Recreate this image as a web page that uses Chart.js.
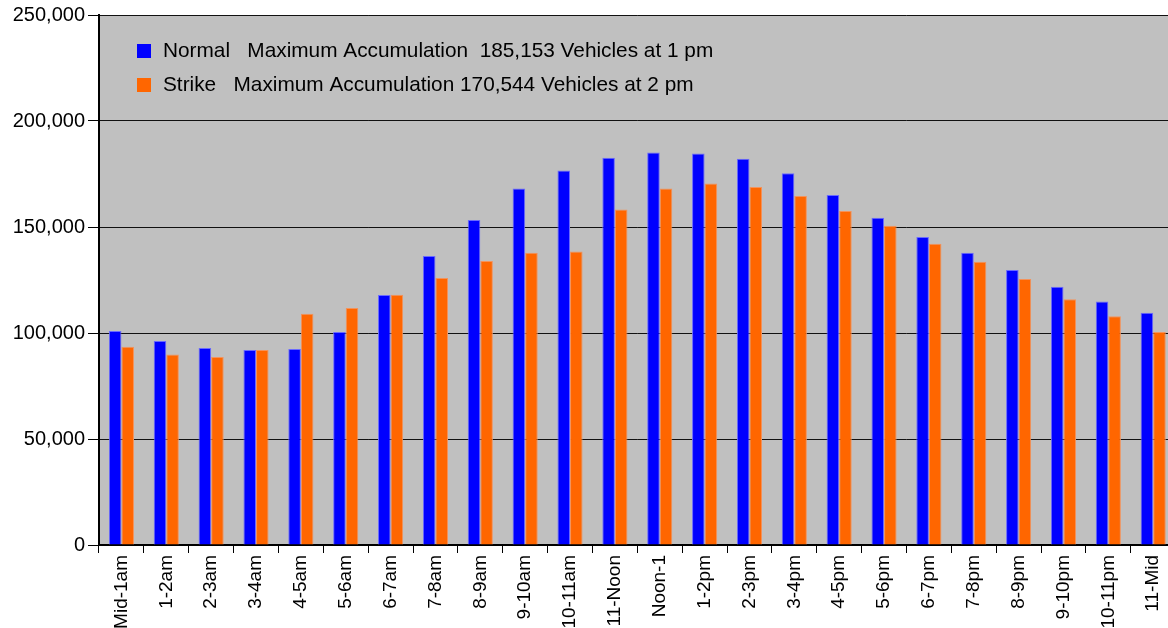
<!DOCTYPE html>
<html>
<head>
<meta charset="utf-8">
<title>Vehicle Accumulation</title>
<script src="https://cdn.jsdelivr.net/npm/chart.js@4.4.1/dist/chart.umd.min.js"></script>
<style>
    html, body { margin: 0; padding: 0; background: #ffffff; overflow: hidden; }
    #wrap { width: 1178px; height: 628px; }
</style>
</head>
<body>
<div id="wrap"><canvas id="accChart" width="1178" height="628"></canvas></div>
<script>
const hours = ["Mid-1am", "1-2am", "2-3am", "3-4am", "4-5am", "5-6am", "6-7am", "7-8am", "8-9am", "9-10am", "10-11am", "11-Noon",
    "Noon-1", "1-2pm", "2-3pm", "3-4pm", "4-5pm", "5-6pm", "6-7pm", "7-8pm", "8-9pm", "9-10pm", "10-11pm", "11-Mid"];

const normalVehicles = [100900, 96200, 92900, 92000, 92500, 100500, 117900, 136300, 153300, 168200, 176700, 182700,
    185153, 184700, 182200, 175300, 165100, 154400, 145300, 137900, 129700, 121800, 114900, 109600];

const strikeVehicles = [93500, 89900, 88700, 92000, 109100, 111800, 118000, 125900, 134000, 137900, 138400, 158200,
    168200, 170544, 168900, 164600, 157500, 150600, 142100, 133600, 125500, 115900, 107900, 100500];

const seriesNames = ["Normal", "Strike"];
const seriesNotes = ["Maximum Accumulation  185,153 Vehicles at 1 pm", "Maximum Accumulation 170,544 Vehicles at 2 pm"];
const seriesColors = ["#0000ff", "#ff6600"];
const seriesEdges = ["#6a6aff", "#f4925a"];

const yTicks = [0, 50000, 100000, 150000, 200000, 250000];

const FONT = "'Liberation Sans', Arial, sans-serif";

// gray plot area behind the bars
const plotBackground = {
    id: "plotBackground",
    beforeDraw(chart) {
        const {ctx, chartArea} = chart;
        ctx.save();
        ctx.fillStyle = "#c0c0c0";
        ctx.fillRect(chartArea.left, chartArea.top, chartArea.right - chartArea.left, chartArea.bottom - chartArea.top);
        ctx.restore();
    }
};

// legend sits inside the plot area, top left
const insideLegend = {
    id: "insideLegend",
    afterDraw(chart) {
        const {ctx, chartArea} = chart;
        ctx.save();
        ctx.font = "20.8px " + FONT;
        ctx.textBaseline = "middle";
        for (let i = 0; i < seriesNames.length; i++) {
            const y = chartArea.top + 36 + i * 34;
            ctx.fillStyle = seriesColors[i];
            ctx.fillRect(chartArea.left + 38, y - 7, 14, 14);
            ctx.fillStyle = "#000000";
            ctx.fillText(seriesNames[i] + "   " + seriesNotes[i], chartArea.left + 64, y);
        }
        ctx.restore();
    }
};

new Chart(document.getElementById("accChart"), {
    type: "bar",
    data: {
        labels: hours,
        datasets: [
            {label: seriesNames[0], data: normalVehicles, backgroundColor: seriesColors[0], borderColor: seriesEdges[0], borderWidth: 1},
            {label: seriesNames[1], data: strikeVehicles, backgroundColor: seriesColors[1], borderColor: seriesEdges[1], borderWidth: 1}
        ]
    },
    options: {
        responsive: false,
        animation: false,
        devicePixelRatio: 1,
        layout: {padding: {top: 15, right: 0, bottom: 0, left: 0}},
        datasets: {bar: {categoryPercentage: 0.56, barPercentage: 1.0}},
        plugins: {
            legend: {display: false},
            tooltip: {enabled: false}
        },
        scales: {
            x: {
                offset: true,
                grid: {display: true, drawOnChartArea: false, drawTicks: true, tickLength: 8, color: "#000000", tickColor: "#000000", offset: true},
                border: {display: true, color: "#000000", width: 2},
                ticks: {
                    color: "#000000",
                    font: {family: FONT, size: 19},
                    minRotation: 90,
                    maxRotation: 90,
                    autoSkip: false,
                    padding: 2
                },
                afterFit(scale) { scale.height = 83; }
            },
            y: {
                min: 0,
                max: 250000,
                afterBuildTicks(scale) { scale.ticks = yTicks.map(v => ({value: v})); },
                grid: {color: "#111111", lineWidth: 1, tickLength: 11, tickColor: "#000000"},
                border: {display: true, color: "#000000", width: 2},
                ticks: {
                    color: "#000000",
                    font: {family: FONT, size: 20},
                    padding: 3,
                    callback: v => Number(v).toLocaleString("en-US")
                },
                afterFit(scale) { scale.width = 99; }
            }
        }
    },
    plugins: [plotBackground, insideLegend]
});
</script>
</body>
</html>
